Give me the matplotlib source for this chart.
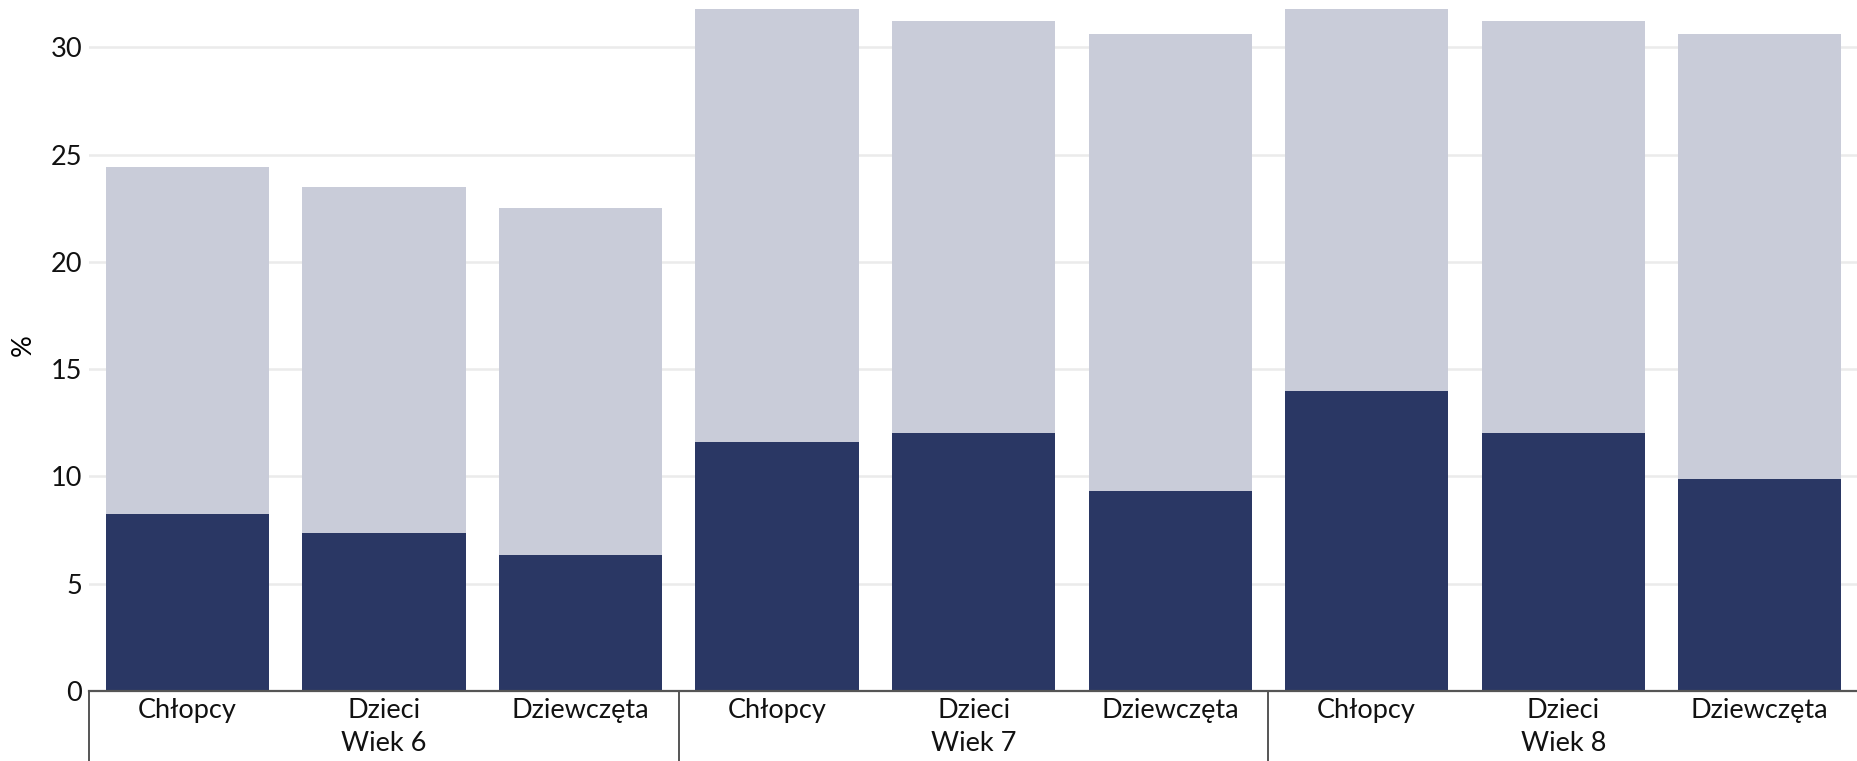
import numpy as np
import matplotlib.pyplot as plt
from matplotlib.transforms import blended_transform_factory

plt.rcParams['font.family'] = ['Lato', 'DejaVu Sans']

# dane
categories = ['Chłopcy', 'Dzieci', 'Dziewczęta'] * 3
groups = ['Wiek 6', 'Wiek 7', 'Wiek 8']
total = [24.4, 23.5, 22.5, 31.8, 31.2, 30.6, 31.8, 31.2, 30.6]
part = [8.25, 7.35, 6.35, 11.6, 12.0, 9.3, 14.0, 12.0, 9.9]

dark = '#2a3764'
light = '#c9ccd9'
fs = 19.5

fig = plt.figure(figsize=(18.58, 7.61), dpi=100)
ax = fig.add_axes([0.048, 0.092, 0.952, 0.908])

x = np.arange(len(categories))
ax.bar(x, total, width=0.83, color=light, zorder=2)
ax.bar(x, part, width=0.83, color=dark, zorder=3)

ax.set_xlim(-0.5, 8.5)
ax.set_ylim(0, 32.2)
ax.set_yticks([0, 5, 10, 15, 20, 25, 30])
ax.yaxis.grid(True, color='#ebebeb', linewidth=1.8, zorder=0)
ax.set_axisbelow(True)

ax.set_xticks(x)
ax.set_xticklabels(categories)
ax.tick_params(axis='x', length=0, pad=5, labelsize=fs, colors='#111111')
ax.tick_params(axis='y', length=0, pad=5, labelsize=fs, colors='#111111')
ax.set_ylabel('%', fontsize=fs, labelpad=11)

for s in ['top', 'right', 'left']:
    ax.spines[s].set_visible(False)
ax.spines['bottom'].set_color('#555555')
ax.spines['bottom'].set_linewidth(1.6)
ax.spines['bottom'].set_zorder(4)

# grupy pod osią
trans = blended_transform_factory(ax.transData, ax.transAxes)
for i, g in enumerate(groups):
    ax.text(3 * i + 1, -0.058, g, transform=trans, ha='center', va='top',
            fontsize=fs, color='#111111')
    ax.plot([3 * i - 0.5, 3 * i - 0.5], [0, -0.12], transform=trans,
            color='#555555', linewidth=1.4, clip_on=False)

fig.savefig('out.png', dpi=100)
